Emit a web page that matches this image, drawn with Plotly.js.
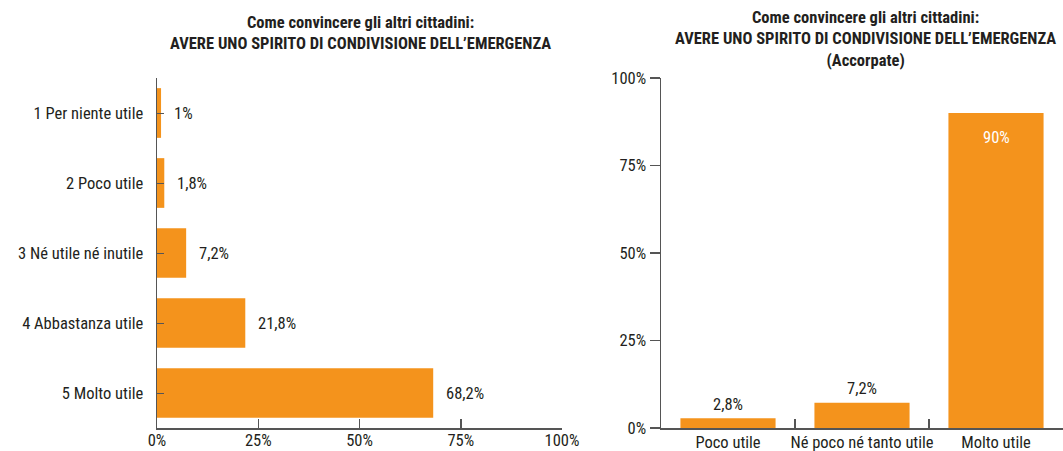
<!DOCTYPE html>
<html><head><meta charset="utf-8">
<script src="https://cdn.plot.ly/plotly-3.0.1.min.js"></script>
<style>html,body{margin:0;padding:0;background:#fff;}#c{width:1063px;height:451px;}</style>
</head><body><div id="c"></div>
<script>
const leftCategories = ["1 Per niente utile","2 Poco utile","3 Né utile né inutile","4 Abbastanza utile","5 Molto utile"];
const leftValues = [1, 1.8, 7.2, 21.8, 68.2];
const rightCategories = ["Poco utile","Né poco né tanto utile","Molto utile"];
const rightValues = [2.8, 7.2, 90];
const pctTicks = [0, 25, 50, 75, 100];
const titleLeft = "Come convincere gli altri cittadini:<br>AVERE UNO SPIRITO DI CONDIVISIONE DELL’EMERGENZA";
const titleRight = "Come convincere gli altri cittadini:<br>AVERE UNO SPIRITO DI CONDIVISIONE DELL’EMERGENZA<br>(Accorpate)";

const FONT = "'Liberation Sans Narrow', 'Arial Narrow', 'Roboto Condensed', 'Liberation Sans', sans-serif";
const FS = 16.5;
const ORANGE = "#F4931C";
const TXT = "#231F20";
const AX = "#555555";
const W = 1063, H = 451;
const fmt = v => String(v).replace('.', ',') + '%';
const pctText = pctTicks.map(v => v + '%');

const traces = [
  {type:'bar', orientation:'h', x:leftValues, y:leftCategories, xaxis:'x', yaxis:'y',
   marker:{color:ORANGE}, hoverinfo:'none'},
  {type:'bar', x:rightCategories, y:rightValues, xaxis:'x2', yaxis:'y2',
   marker:{color:ORANGE}, hoverinfo:'none'}
];

const annotations = leftValues.map((v,i) => ({
  x: v, y: leftCategories[i], xref:'x', yref:'y', text: fmt(v), showarrow:false,
  xanchor:'left', xshift: 11, font:{family:FONT, size:FS, color:TXT}
}));
rightValues.forEach((v,i) => {
  const inside = v > 50;
  annotations.push({x: rightCategories[i], y: v, xref:'x2', yref:'y2', text: fmt(v), showarrow:false,
    xanchor:'center', yanchor:'middle', yshift: inside ? -24 : 14,
    font:{family:FONT, size:FS, color: inside ? '#ffffff' : TXT}});
});
annotations.push({x:360/W, y:1-33/H, xref:'paper', yref:'paper', text:titleLeft, showarrow:false,
  xanchor:'center', yanchor:'middle', font:{family:FONT, size:FS, color:TXT, weight:'bold'}});
annotations.push({x:865/W, y:1-39/H, xref:'paper', yref:'paper', text:titleRight, showarrow:false,
  xanchor:'center', yanchor:'middle', font:{family:FONT, size:FS, color:TXT, weight:'bold'}});

const layout = {
  width:W, height:H, margin:{l:0,r:0,t:0,b:0}, showlegend:false,
  paper_bgcolor:'#fff', plot_bgcolor:'rgba(0,0,0,0)',
  font:{family:FONT, size:FS, color:TXT},
  bargap:0.29,
  xaxis:{domain:[157/W, 562/W], range:[0,100], tickvals:pctTicks, ticktext:pctText,
    showgrid:false, zeroline:false, showline:true, linecolor:AX, linewidth:1.5,
    ticks:'inside', ticklen:9, tickcolor:AX, tickwidth:1.5, anchor:'y', fixedrange:true,
    ticklabelstandoff:-3},
  yaxis:{domain:[(H-428)/H, (H-78)/H], autorange:'reversed', showgrid:false, zeroline:false,
    showline:true, linecolor:AX, linewidth:1.5, ticks:'inside', ticklen:7, tickcolor:AX,
    tickwidth:1, ticklabelstandoff:9, anchor:'x', fixedrange:true},
  xaxis2:{domain:[661/W, 1], range:[-0.5, 2.5], type:'category', showgrid:false, zeroline:false,
    showline:true, linecolor:AX, linewidth:1.5, ticks:'inside', tickson:'boundaries', ticklen:9,
    tickcolor:AX, tickwidth:1.5, anchor:'y2', fixedrange:true, tickangle:0, ticklabelstandoff:-1},
  yaxis2:{domain:[(H-428)/H, (H-78)/H], range:[0,100], tickvals:pctTicks, ticktext:pctText,
    showgrid:false, zeroline:false, showline:true, linecolor:AX, linewidth:1.5,
    ticks:'outside', ticklen:10, tickcolor:AX, tickwidth:1.5, anchor:'x2', fixedrange:true},
  annotations: annotations
};

Plotly.newPlot('c', traces, layout, {staticPlot:true, displayModeBar:false});
</script>
</body></html>
